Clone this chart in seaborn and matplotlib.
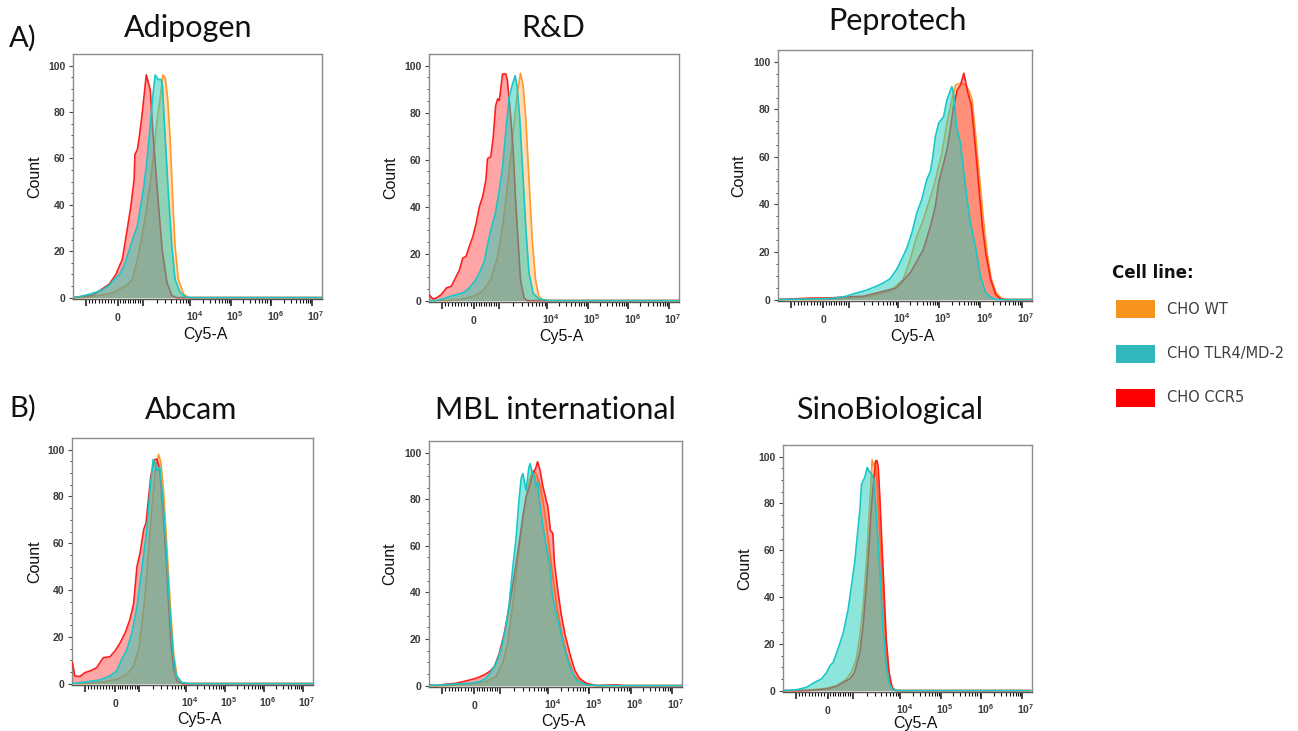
import numpy as np
import pandas as pd
import matplotlib
matplotlib.use("Agg")
import matplotlib.pyplot as plt
import seaborn as sns
from matplotlib.patches import Rectangle
from matplotlib.ticker import FixedLocator

# ---------------- data (x in display units of the biexponential Cy5-A axis, y = Count) -------------
# Adipogen
adipogen_wt_x = [-1.10, -0.85, -0.45, -0.12, 0.12, 0.24, 0.37, 0.53, 0.69, 0.81, 0.89, 0.98, 1.06, 1.12, 1.18, 1.24, 1.30, 1.36, 1.42, 1.50, 1.63, 1.75, 5.05]
adipogen_wt_y = [0, 0, 0.9, 2, 4.4, 5.4, 8, 19.5, 35, 49.4, 62.3, 76.7, 86.7, 96, 94.6, 85.3, 68, 43.6, 22.2, 8, 1.6, 0, 0]
adipogen_ccr5_x = [-1.10, -1.02, -0.61, -0.20, -0.04, 0.12, 0.24, 0.33, 0.41, 0.43, 0.49, 0.54, 0.61, 0.71, 0.81, 0.87, 0.98, 1.10, 1.22, 1.34, 1.46, 5.05]
adipogen_ccr5_y = [0, 0.2, 1, 5.9, 10, 16.6, 29.5, 39.5, 51, 61.7, 63.8, 69.5, 79.5, 96, 89.5, 72, 46.6, 20.9, 6.6, 0.9, 0, 0]
adipogen_tlr4_x = [-1.10, -1.02, -0.77, -0.53, -0.37, -0.20, -0.08, 0.04, 0.16, 0.28, 0.37, 0.49, 0.57, 0.65, 0.73, 0.81, 0.87, 0.93, 1.00, 1.08, 1.11, 1.18, 1.26, 1.34, 1.42, 1.54, 1.67, 1.79, 5.05]
adipogen_tlr4_y = [0, 0.1, 1.1, 2.3, 3.4, 5.4, 8, 9.7, 13.7, 20, 25, 31, 39.5, 48, 59.5, 75, 86.7, 96, 94, 94, 91, 68, 43.6, 22.2, 8, 2.3, 0.4, 0, 0]

# R&D
rnd_wt_x = [-1.10, -0.67, -0.35, -0.02, 0.22, 0.42, 0.59, 0.71, 0.80, 0.91, 0.99, 1.07, 1.15, 1.21, 1.28, 1.36, 1.44, 1.52, 1.60, 1.72, 5.05]
rnd_wt_y = [0, 0, 0.4, 1.8, 4, 8.9, 18.8, 31.4, 44.1, 61, 75.1, 88.1, 96.8, 92.2, 78.1, 51.3, 25.8, 8.9, 1.8, 0, 0]
rnd_ccr5_x = [-1.10, -1.00, -0.92, -0.80, -0.67, -0.55, -0.43, -0.35, -0.27, -0.19, -0.11, -0.02, 0.06, 0.14, 0.22, 0.30, 0.34, 0.42, 0.48, 0.54, 0.59, 0.63, 0.67, 0.71, 0.79, 0.83, 0.91, 0.97, 1.03, 1.10, 1.15, 1.24, 1.32, 5.05]
rnd_ccr5_y = [2.5, 0.7, 1.1, 2.5, 5.4, 6.1, 10.3, 13.1, 18.1, 18.8, 23, 27.3, 32.9, 40, 44.2, 51.3, 60.5, 61.2, 69.6, 83, 85.9, 85.2, 90.8, 96.5, 96.5, 93.6, 78.1, 64, 42.8, 23, 8.9, 1.1, 0, 0]
rnd_tlr4_x = [-1.10, -0.92, -0.76, -0.59, -0.43, -0.27, -0.11, 0.02, 0.14, 0.26, 0.34, 0.42, 0.53, 0.63, 0.71, 0.79, 0.87, 0.95, 1.02, 1.07, 1.13, 1.20, 1.28, 1.36, 1.46, 1.60, 1.85, 5.05]
rnd_tlr4_y = [0, 0, 0.7, 1.8, 2.5, 3.2, 5.4, 8.2, 11.7, 16.7, 23.7, 30.1, 37.1, 47, 56.8, 72.3, 86.4, 92, 95.8, 90.8, 78.1, 56.8, 31.4, 11.7, 3.2, 0.7, 0, 0]

# Peprotech
peprotech_wt_x = [-1.11, -0.02, 0.55, 1.12, 1.61, 1.93, 2.10, 2.26, 2.42, 2.67, 2.87, 2.99, 3.11, 3.20, 3.32, 3.44, 3.52, 3.60, 3.68, 3.76, 3.86, 3.96, 4.06, 4.18, 4.30, 4.45, 5.05]
peprotech_wt_y = [0, 0, 0.6, 1.4, 3.5, 8.4, 16.8, 26.6, 33.6, 47.6, 61.6, 74.2, 84, 90.3, 91, 90.3, 88.2, 84, 70, 55, 36, 20, 9, 3, 0.6, 0, 0]
peprotech_ccr5_x = [-1.11, -0.34, 0.15, 0.55, 0.96, 1.45, 1.77, 2.10, 2.42, 2.59, 2.71, 2.79, 2.91, 2.99, 3.07, 3.15, 3.24, 3.32, 3.40, 3.50, 3.58, 3.64, 3.72, 3.79, 3.85, 3.93, 4.05, 4.17, 4.29, 4.41, 5.05]
peprotech_ccr5_y = [0, 0.6, 0.7, 1.1, 1.4, 3.5, 4.9, 11.2, 21, 30.8, 39.2, 49, 57.4, 63, 71.4, 81.2, 88.2, 90.3, 95.2, 86.8, 81.9, 71.4, 56, 42, 30.8, 19.6, 8.4, 2.1, 0.3, 0, 0]
peprotech_tlr4_x = [-1.11, 0.07, 0.31, 0.55, 0.80, 0.96, 1.12, 1.28, 1.45, 1.61, 1.77, 1.89, 2.02, 2.14, 2.26, 2.38, 2.50, 2.59, 2.65, 2.71, 2.79, 2.91, 2.99, 3.11, 3.15, 3.22, 3.32, 3.40, 3.48, 3.56, 3.68, 3.80, 3.93, 4.09, 4.21, 5.05]
peprotech_tlr4_y = [0, 0.4, 0.7, 1.4, 2.8, 3.5, 4.5, 5.6, 7, 8.7, 12.6, 16.8, 21.7, 28, 36.4, 42, 50.4, 53.9, 60.2, 68.6, 74.2, 77, 84, 89.6, 86.8, 72.8, 65.8, 53.2, 42, 32.2, 22.4, 9.8, 2.8, 0.6, 0, 0]

# Abcam
abcam_wt_x = [-1.09, -0.73, -0.30, 0.04, 0.30, 0.47, 0.60, 0.68, 0.77, 0.85, 0.94, 1.03, 1.11, 1.17, 1.24, 1.32, 1.41, 1.50, 1.58, 1.71, 5.07]
abcam_wt_y = [0, 0, 0.7, 1.8, 4, 7.5, 14.6, 24.5, 38.7, 55.8, 75.7, 91.5, 98, 94.3, 81.5, 58.7, 33.1, 11.8, 3.3, 0, 0]
abcam_ccr5_x = [-1.09, -1.03, -0.90, -0.77, -0.64, -0.47, -0.30, -0.13, 0, 0.13, 0.26, 0.38, 0.47, 0.56, 0.64, 0.73, 0.79, 0.85, 0.91, 1.00, 1.07, 1.14, 1.22, 1.31, 1.37, 1.43, 1.50, 1.58, 1.71, 5.07]
abcam_ccr5_y = [9, 3.3, 3, 4.7, 5.4, 6.8, 11.1, 11.5, 14, 17.5, 21.8, 27.5, 33.9, 50.2, 56, 65.9, 68.7, 78.7, 88.6, 95.7, 96, 91.5, 74.4, 51.6, 33, 16, 6.1, 1.1, 0, 0]
abcam_tlr4_x = [-1.09, -0.73, -0.38, -0.13, 0.04, 0.17, 0.30, 0.43, 0.56, 0.68, 0.81, 0.90, 0.97, 1.03, 1.07, 1.14, 1.22, 1.31, 1.39, 1.48, 1.56, 1.71, 1.92, 5.07]
abcam_tlr4_y = [0, 0.7, 1.6, 3.3, 5.4, 10.4, 14.6, 21.8, 33.1, 48.8, 65.9, 84.4, 95.7, 94.3, 91, 92.5, 78.7, 56, 33.1, 13.2, 3.3, 0.4, 0, 0]

# MBL international
mbl_wt_x = [-1.11, -0.69, -0.12, 0.28, 0.53, 0.69, 0.81, 0.93, 1.06, 1.18, 1.26, 1.34, 1.42, 1.50, 1.59, 1.67, 1.75, 1.83, 1.91, 2.01, 2.11, 2.24, 2.40, 2.56, 2.80, 5.04]
mbl_wt_y = [0, 0, 0.6, 1.7, 3.9, 9.6, 18.1, 33.9, 53.9, 71, 81, 88.1, 92.4, 91, 86.7, 79.6, 69.6, 58.4, 47, 33.9, 23.9, 13.9, 5.3, 1.7, 0, 0]
mbl_ccr5_x = [-1.11, -0.93, -0.69, -0.45, -0.20, 0.04, 0.24, 0.37, 0.49, 0.61, 0.73, 0.85, 0.98, 1.10, 1.18, 1.26, 1.34, 1.42, 1.49, 1.54, 1.60, 1.67, 1.73, 1.79, 1.85, 1.91, 1.95, 2.03, 2.11, 2.20, 2.32, 2.44, 2.56, 2.72, 2.97, 3.46, 3.62, 5.04]
mbl_ccr5_y = [0.3, 0, 0.6, 1, 2, 3.1, 4.6, 6, 8.1, 13.9, 22.4, 33.9, 48.1, 62.4, 72.4, 81, 85.3, 91, 93.1, 96.1, 92.4, 85.3, 81, 76.7, 66.7, 65.3, 52.4, 41, 31, 22.4, 13.9, 6.7, 3.1, 1, 0, 0.3, 0, 0]
mbl_tlr4_x = [-1.11, -0.53, -0.12, 0.12, 0.28, 0.41, 0.53, 0.65, 0.77, 0.85, 0.93, 1.02, 1.08, 1.14, 1.18, 1.22, 1.26, 1.33, 1.36, 1.41, 1.46, 1.50, 1.54, 1.60, 1.67, 1.75, 1.83, 1.89, 1.99, 2.09, 2.20, 2.32, 2.48, 2.72, 3.13, 5.04]
mbl_tlr4_y = [0, 0.6, 1, 1.7, 3.1, 6, 9.6, 15.3, 25.3, 35.3, 49.6, 63.9, 78.1, 88.9, 91, 87.6, 83.9, 93.9, 95.3, 91, 90.4, 85.4, 87.6, 76.7, 68.1, 59.6, 52.4, 39.6, 31, 23.9, 15.3, 8.1, 2.4, 0.3, 0, 0]

# SinoBiological
sino_wt_x = [-1.09, -0.76, -0.35, -0.02, 0.22, 0.43, 0.59, 0.71, 0.80, 0.88, 0.96, 1.02, 1.07, 1.10, 1.14, 1.18, 1.22, 1.29, 1.37, 1.45, 1.53, 1.66, 5.02]
sino_wt_y = [0, 0, 0.4, 1, 2.1, 4.3, 7.8, 13.5, 23.5, 36.3, 54.7, 73.4, 87.6, 98.7, 96, 97.6, 90.4, 67.7, 42.1, 16.5, 3.6, 0, 0]
sino_ccr5_x = [-1.09, -0.52, -0.19, 0.06, 0.26, 0.39, 0.55, 0.67, 0.80, 0.88, 0.96, 1.02, 1.08, 1.14, 1.19, 1.22, 1.25, 1.29, 1.33, 1.39, 1.45, 1.52, 1.60, 1.70, 5.02]
sino_ccr5_y = [0, 0, 0.4, 1, 2.1, 3.6, 5, 7.8, 16.5, 27.9, 45, 60.5, 77.6, 90.4, 98.3, 98.3, 96.1, 83.3, 67.5, 44.7, 21.9, 7.8, 1, 0, 0]
sino_tlr4_x = [-1.09, -0.76, -0.52, -0.31, -0.15, -0.02, 0.06, 0.14, 0.26, 0.39, 0.51, 0.59, 0.67, 0.75, 0.80, 0.84, 0.88, 0.92, 0.98, 1.02, 1.08, 1.14, 1.20, 1.29, 1.37, 1.45, 1.53, 1.61, 1.78, 5.02]
sino_tlr4_y = [0, 0.4, 1.4, 3.6, 5, 7.8, 10.7, 12.1, 17.8, 24.8, 34.8, 44.7, 54.7, 68.8, 77.6, 88.3, 89.7, 91.2, 95.4, 94, 92.6, 90.4, 76.2, 52, 26.4, 10.7, 2.8, 0.4, 0, 0]

panel_titles = ["Adipogen", "R&D", "Peprotech", "Abcam", "MBL international", "SinoBiological"]
row_labels = ["A)", "B)"]
cell_lines = ["CHO WT", "CHO TLR4/MD-2", "CHO CCR5"]
x_tick_labels = ["0", "$10^4$", "$10^5$", "$10^6$", "$10^7$"]
y_tick_values = [0, 20, 40, 60, 80, 100]

# ---------------- assemble long table -------------
series = {
    "Adipogen": [(adipogen_wt_x, adipogen_wt_y), (adipogen_tlr4_x, adipogen_tlr4_y), (adipogen_ccr5_x, adipogen_ccr5_y)],
    "R&D": [(rnd_wt_x, rnd_wt_y), (rnd_tlr4_x, rnd_tlr4_y), (rnd_ccr5_x, rnd_ccr5_y)],
    "Peprotech": [(peprotech_wt_x, peprotech_wt_y), (peprotech_tlr4_x, peprotech_tlr4_y), (peprotech_ccr5_x, peprotech_ccr5_y)],
    "Abcam": [(abcam_wt_x, abcam_wt_y), (abcam_tlr4_x, abcam_tlr4_y), (abcam_ccr5_x, abcam_ccr5_y)],
    "MBL international": [(mbl_wt_x, mbl_wt_y), (mbl_tlr4_x, mbl_tlr4_y), (mbl_ccr5_x, mbl_ccr5_y)],
    "SinoBiological": [(sino_wt_x, sino_wt_y), (sino_tlr4_x, sino_tlr4_y), (sino_ccr5_x, sino_ccr5_y)],
}
rows = []
for panel, lst in series.items():
    for line, (xs, ys) in zip(cell_lines, lst):
        for i, (xv, yv) in enumerate(zip(xs, ys)):
            rows.append({"panel": panel, "line": line, "order": i, "x": xv, "y": yv})
df = pd.DataFrame(rows)

# ---------------- styling -------------
sns.set_theme(style="white")
plt.rcParams["font.family"] = ["Liberation Sans", "DejaVu Sans"]
plt.rcParams["mathtext.default"] = "regular"

line_colors = {"CHO WT": "#FF9A2E", "CHO TLR4/MD-2": "#17C8C8", "CHO CCR5": "#FF1E1E"}
fill_colors = {"CHO WT": "#FF9A2E", "CHO TLR4/MD-2": "#1ECDBA", "CHO CCR5": "#FF2020"}
fill_alpha = {"CHO WT": 0.36, "CHO TLR4/MD-2": 0.5, "CHO CCR5": 0.40}
legend_colors = {"CHO WT": "#F7941D", "CHO TLR4/MD-2": "#31B7BC", "CHO CCR5": "#FF0000"}
draw_order = ["CHO WT", "CHO CCR5", "CHO TLR4/MD-2"]

W, H = 1298, 731
fig = plt.figure(figsize=(W / 100, H / 100), dpi=100)

# panel boxes in pixels (left, top, right, bottom)
boxes = {
    "Adipogen": (73, 54, 322, 299),
    "R&D": (429, 54, 679, 302),
    "Peprotech": (778, 50, 1032, 301),
    "Abcam": (72, 438, 313, 685),
    "MBL international": (429, 441, 682, 687),
    "SinoBiological": (783, 445, 1032, 692),
}
title_pos = {
    "Adipogen": (188, 37), "R&D": (553, 37), "Peprotech": (897, 30),
    "Abcam": (191, 419), "MBL international": (555, 419), "SinoBiological": (890, 419),
}
xlabel_y = {"Adipogen": -0.115, "R&D": -0.11, "Peprotech": -0.11,
            "Abcam": -0.11, "MBL international": -0.11, "SinoBiological": -0.097}

major_u = [0, 1.8, 2.8, 3.8, 4.8]
extra_major_u = [-0.78, 0.62]
minor_u = [k * 0.078 for k in range(-9, 0)] + [k * 0.062 for k in range(1, 10)]
minor_u += [0.62 + 1.18 * np.log10(k) for k in range(2, 10)]
for d in range(3):
    minor_u += [1.8 + d + np.log10(k) for k in range(2, 10)]

for panel in panel_titles:
    l, t, r, b = boxes[panel]
    ax = fig.add_axes([l / W, 1 - b / H, (r - l) / W, (b - t) / H])
    sub = df[df.panel == panel]
    for z, line in enumerate(draw_order):
        s = sub[sub.line == line].sort_values("order")
        ax.fill_between(s.x.values, s.y.values, 0, color=fill_colors[line],
                        alpha=fill_alpha[line], lw=0, zorder=2 + 2 * z)
        sns.lineplot(data=s, x="x", y="y", ax=ax, color=line_colors[line], lw=1.2,
                     sort=False, estimator=None, zorder=3 + 2 * z, legend=False)
    ax.set_xlim(-1.1, 5.05)
    ax.set_ylim(-0.6, 105)
    ax.set_xlabel("")
    ax.set_ylabel("")
    ax.text(0.53, xlabel_y[panel], "Cy5-A", transform=ax.transAxes, ha="center", va="top",
            fontsize=11.5, color="#111111")
    ax.text(-0.125, 0.5, "Count", transform=ax.transAxes, ha="right", va="center",
            rotation=90, fontsize=11.5, color="#111111")
    # y axis ticks
    ax.set_yticks(y_tick_values)
    ax.yaxis.set_minor_locator(FixedLocator([v for v in range(5, 105, 5) if v % 20]))
    ax.set_yticklabels([str(v) for v in y_tick_values], fontsize=7.5, fontweight="bold", color="#3a3a3a")
    ax.tick_params(axis="y", which="major", direction="out", length=3, width=0.8, color="#444444", pad=2.5, left=True)
    ax.tick_params(axis="y", which="minor", direction="out", length=1.8, width=0.7, color="#444444", left=True)
    # x axis ticks
    ax.set_xticks(major_u + extra_major_u)
    ax.set_xticklabels([""] * (len(major_u) + len(extra_major_u)))
    ax.xaxis.set_minor_locator(FixedLocator(minor_u))
    ax.tick_params(axis="x", which="major", direction="out", length=5, width=1.1, color="#111111", bottom=True)
    ax.tick_params(axis="x", which="minor", direction="out", length=2.8, width=0.8, color="#111111", bottom=True)
    for u, lab in zip(major_u, x_tick_labels):
        ax.annotate(lab, xy=(u + (0.1 if lab != "0" else 0), 0), xycoords=("data", "axes fraction"),
                    xytext=(0, -15.5), textcoords="offset points", ha="center", va="baseline",
                    fontsize=7.5, fontweight="bold", color="#3a3a3a", annotation_clip=False)
    for side in ["top", "right", "left"]:
        ax.spines[side].set_color("#8c8c8c")
        ax.spines[side].set_linewidth(1.0)
    ax.spines["bottom"].set_color("#555555")
    ax.spines["bottom"].set_linewidth(1.0)
    ax.set_facecolor("white")
    tx, ty = title_pos[panel]
    fig.text(tx / W, 1 - ty / H, panel, ha="center", va="baseline", fontsize=22,
             family=["Lato", "DejaVu Sans"], color="#111111")

fig.text(9 / W, 1 - 47 / H, row_labels[0], ha="left", va="baseline", fontsize=21,
         family=["Lato", "DejaVu Sans"], color="#111111")
fig.text(9 / W, 1 - 417 / H, row_labels[1], ha="left", va="baseline", fontsize=21,
         family=["Lato", "DejaVu Sans"], color="#111111")

# legend
fig.text(1112 / W, 1 - 273 / H, "Cell line:", ha="left", va="center", fontsize=12,
         fontweight="bold", family=["DejaVu Sans"], color="#111111")
for i, line in enumerate(cell_lines):
    yc = 309 + 44.5 * i
    fig.add_artist(Rectangle((1116 / W, 1 - (yc + 9) / H), 39 / W, 18 / H,
                             transform=fig.transFigure, color=legend_colors[line], lw=0))
    fig.text(1167 / W, 1 - yc / H, line, ha="left", va="center", fontsize=10.5,
             family=["DejaVu Sans"], color="#404040")

fig.savefig("out.png", dpi=100, facecolor="white")
